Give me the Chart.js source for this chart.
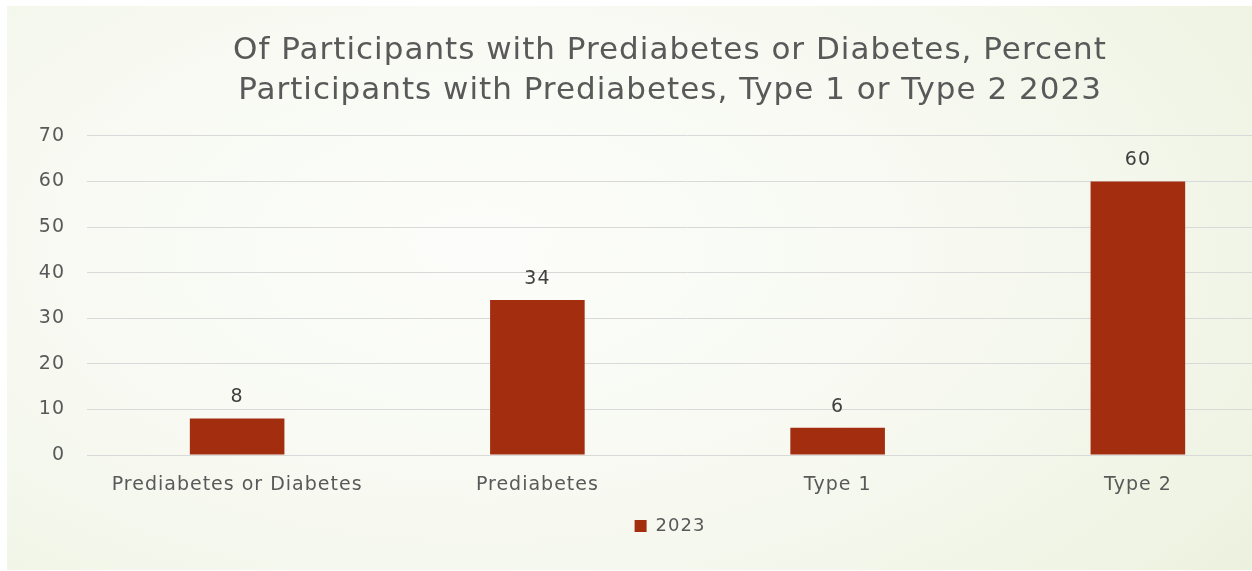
<!DOCTYPE html>
<html>
<head>
<meta charset="utf-8">
<script src="https://cdn.jsdelivr.net/npm/chart.js@4/dist/chart.umd.min.js"></script>
<style>
  html, body { margin: 0; padding: 0; width: 1252px; height: 571px; overflow: hidden; background: #ffffff; }
  #bg { position: absolute; left: 7px; top: 6px; width: 1245px; height: 564px;
        background: radial-gradient(ellipse 90% 110% at 38% 42%, #fcfdfa 0%, #f7f9f1 45%, #eef3e2 80%, #e7eed6 100%); overflow: hidden; }
  #wrap { position: absolute; left: 0; top: 0; width: 1326px; height: 564px; }
</style>
</head>
<body>
<div id="bg"><div id="wrap"><canvas id="c"></canvas></div></div>
<script>
const titleLines = ["Of Participants with Prediabetes or Diabetes, Percent", "Participants with Prediabetes, Type 1 or Type 2 2023"];
const categories = ["Prediabetes or Diabetes", "Prediabetes", "Type 1", "Type 2"];
const seriesName = "2023";
const values2023 = [8, 34, 6, 60];
const yMin = 0, yMax = 70, yStep = 10;

const FONT = "'DejaVu Sans', sans-serif";
const TEXT = '#595959';

const spacing = {
  id: 'spacing',
  beforeLayout(chart) { chart.ctx.letterSpacing = '1px'; },
  beforeDraw(chart) { chart.ctx.letterSpacing = '1px'; }
};

const valueLabels = {
  id: 'valueLabels',
  afterDatasetsDraw(chart) {
    const ctx = chart.ctx;
    chart.data.datasets.forEach((ds, i) => {
      const meta = chart.getDatasetMeta(i);
      meta.data.forEach((bar, j) => {
        ctx.save();
        ctx.letterSpacing = '1px';
        ctx.font = "19px " + FONT;
        ctx.fillStyle = '#404040';
        ctx.textAlign = 'center';
        ctx.textBaseline = 'middle';
        ctx.fillText(String(ds.data[j]), bar.x, bar.y - 21);
        ctx.restore();
      });
    });
  }
};

new Chart(document.getElementById('c'), {
  type: 'bar',
  data: {
    labels: categories,
    datasets: [{
      label: seriesName,
      data: values2023,
      backgroundColor: '#A32D0F',
      borderWidth: 0,
      barPercentage: 0.63,
      categoryPercentage: 0.5
    }]
  },
  options: {
    responsive: true,
    maintainAspectRatio: false,
    animation: false,
    devicePixelRatio: 1,
    layout: { padding: { left: 0, right: 0, top: 0, bottom: 25 } },
    plugins: {
      title: {
        display: true,
        text: titleLines,
        color: TEXT,
        font: { family: FONT, size: 31, weight: 'normal', lineHeight: 1.32 },
        padding: { top: 24, bottom: 24 }
      },
      legend: {
        display: true,
        position: 'bottom',
        labels: { color: TEXT, font: { family: FONT, size: 18 }, boxWidth: 12, boxHeight: 12, padding: 10 }
      },
      tooltip: { enabled: false }
    },
    scales: {
      x: {
        grid: { display: false, drawTicks: false },
        border: { display: false },
        ticks: { color: TEXT, font: { family: FONT, size: 19 }, padding: 19, maxRotation: 0, autoSkip: false },
        afterFit(scale) { scale.height = 52; }
      },
      y: {
        min: yMin, max: yMax,
        grid: { color: '#d9d9d9', lineWidth: 1, drawTicks: false },
        border: { display: false },
        ticks: { stepSize: yStep, color: TEXT, font: { family: FONT, size: 19 }, padding: 22 },
        afterFit(scale) { scale.width = 80; }
      },
      yr: {
        type: 'linear',
        position: 'right',
        display: true,
        grid: { display: false, drawTicks: false },
        border: { display: false },
        ticks: { display: false },
        afterFit(scale) { scale.width = 45; }
      }
    }
  },
  plugins: [spacing, valueLabels]
});
</script>
</body>
</html>
